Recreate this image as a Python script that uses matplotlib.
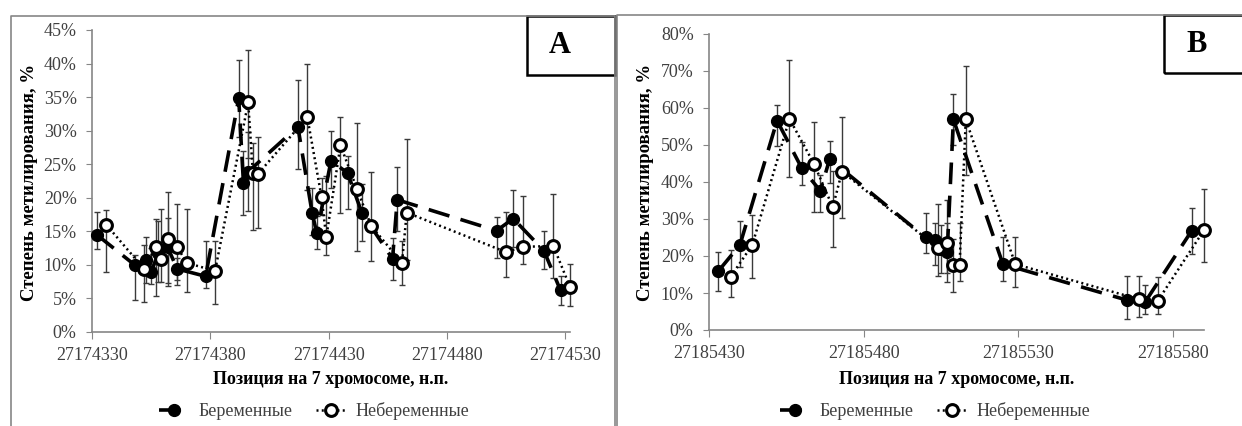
import matplotlib
matplotlib.use('Agg')
import matplotlib.pyplot as plt
from matplotlib.lines import Line2D
from matplotlib.patches import Rectangle
from matplotlib.ticker import PercentFormatter, FixedLocator, MultipleLocator

plt.rcParams['font.family'] = ['Liberation Serif', 'DejaVu Serif']

# ---- данные: участок A ----
a_preg_pos = [27174332, 27174348, 27174353, 27174355, 27174358, 27174362, 27174366, 27174378,
              27174392, 27174394, 27174396, 27174417, 27174423, 27174425, 27174431, 27174438,
              27174444, 27174457, 27174459, 27174501, 27174508, 27174521, 27174528]
a_preg_val = [14.5, 10.0, 10.8, 8.9, 11.8, 12.6, 9.4, 8.3,
              34.8, 22.2, 23.9, 30.6, 17.8, 14.7, 25.5, 23.7,
              17.8, 10.9, 19.7, 15.1, 16.9, 12.1, 6.2]
a_preg_low = [12.4, 4.7, 7.3, 7.1, 7.5, 7.3, 7.8, 6.5,
              29.1, 17.4, 18.0, 24.3, 14.5, 12.3, 21.4, 18.3,
              13.5, 7.8, 15.0, 11.0, 12.7, 9.4, 4.0]
a_preg_high = [17.9, 11.4, 14.2, 12.5, 16.5, 17.0, 11.0, 13.6,
               40.6, 27.0, 29.8, 37.5, 21.5, 17.3, 30.0, 26.2,
               22.0, 14.0, 24.6, 17.2, 21.2, 15.1, 8.3]

a_non_pos = [27174336, 27174352, 27174357, 27174359, 27174362, 27174366, 27174370, 27174382,
             27174396, 27174398, 27174400, 27174421, 27174427, 27174429, 27174435, 27174442,
             27174448, 27174461, 27174463, 27174505, 27174512, 27174525, 27174532]
a_non_val = [16.0, 9.4, 12.7, 10.9, 13.8, 12.7, 10.3, 9.1,
             34.2, 23.7, 23.5, 32.0, 20.1, 14.1, 27.8, 21.3,
             15.8, 10.3, 17.8, 11.9, 12.7, 12.8, 6.7]
a_non_low = [8.9, 4.5, 5.3, 7.5, 6.8, 7.0, 5.9, 4.2,
             26.0, 15.2, 15.5, 21.2, 17.5, 11.5, 17.7, 12.1,
             10.6, 7.0, 10.8, 8.2, 10.2, 8.0, 3.9]
a_non_high = [18.2, 13.0, 16.9, 18.3, 20.9, 19.0, 18.4, 13.6,
              42.0, 28.2, 29.1, 40.0, 23.0, 23.3, 32.0, 31.2,
              23.8, 13.5, 28.8, 17.9, 20.3, 20.6, 10.2]

a_xticks = [27174330, 27174380, 27174430, 27174480, 27174530]

# ---- данные: участок B ----
b_preg_pos = [27185433, 27185440, 27185452, 27185460, 27185466, 27185469, 27185500, 27185503,
              27185505, 27185507, 27185509, 27185525, 27185565, 27185571, 27185586]
b_preg_val = [15.9, 23.0, 56.6, 43.7, 37.6, 46.2, 25.0, 24.3,
              22.0, 21.2, 56.9, 17.8, 8.1, 7.6, 26.8]
b_preg_low = [10.6, 17.0, 49.8, 39.2, 32.0, 39.6, 20.7, 17.6,
              15.5, 15.3, 50.0, 13.3, 3.0, 4.2, 20.5]
b_preg_high = [21.2, 29.5, 60.7, 50.9, 42.0, 51.2, 31.5, 28.8,
               28.5, 28.8, 63.8, 25.2, 14.6, 12.1, 33.1]

b_non_pos = [27185437, 27185444, 27185456, 27185464, 27185470, 27185473, 27185504, 27185507,
             27185509, 27185511, 27185513, 27185529, 27185569, 27185575, 27185590]
b_non_val = [14.4, 23.0, 57.1, 44.8, 33.2, 42.8, 22.2, 23.6,
             17.6, 17.6, 56.9, 17.8, 8.3, 7.8, 27.0]
b_non_low = [9.0, 14.1, 41.4, 32.0, 22.3, 30.2, 14.6, 13.1,
             10.4, 13.2, 42.0, 11.7, 3.6, 4.2, 18.3]
b_non_high = [21.6, 31.0, 73.0, 56.1, 43.0, 57.6, 34.0, 35.1,
              24.5, 28.8, 71.4, 25.2, 14.6, 14.2, 38.1]

b_xticks = [27185430, 27185480, 27185530, 27185580]

labels = ['Беременные', 'Небеременные']

W, H = 1242, 426
fig = plt.figure(figsize=(W / 100, H / 100), dpi=100)

GRAY = '#868686'
TXT = '#404040'


def rect_px(x0, y0, x1, y1):
    # пиксели (начало сверху слева) -> доли фигуры
    return [x0 / W, 1 - y1 / H, (x1 - x0) / W, (y1 - y0) / H]


def series(ax, pos, val, low, high, filled):
    yerr = [[v - l for v, l in zip(val, low)], [h - v for v, h in zip(val, high)]]
    eb = ax.errorbar(pos, val, yerr=yerr, fmt='none', ecolor='#3a3a3a', elinewidth=1,
                     capsize=2.2, capthick=1, zorder=2)
    for art in eb.lines[1] + eb.lines[2]:
        art.set_clip_on(False)
    if filled:
        ax.plot(pos, val, color='black', lw=2.6, dashes=(6, 3.2), zorder=3, clip_on=False)
        ax.plot(pos, val, ls='none', marker='o', ms=8.5, mfc='black', mec='black',
                zorder=4, clip_on=False)
    else:
        ax.plot(pos, val, color='black', lw=1.8, ls=(0, (0.8, 1.3)), zorder=3, clip_on=False)
        ax.plot(pos, val, ls='none', marker='o', ms=8.5, mfc='white', mec='black',
                mew=2.2, zorder=5, clip_on=False)


def panel(rect, xlim, xticks, ylim, ystep, data, frame, box, letter, ylab_x, leg_x):
    ax = fig.add_axes(rect)
    (pp, pv, pl, ph), (npos, nv, nl, nh) = data
    series(ax, pp, pv, pl, ph, True)
    series(ax, npos, nv, nl, nh, False)

    ax.set_xlim(*xlim)
    ax.set_ylim(*ylim)
    ax.xaxis.set_major_locator(FixedLocator(xticks))
    ax.xaxis.set_major_formatter(plt.FuncFormatter(lambda v, p: f'{int(round(v))}'))
    ax.yaxis.set_major_locator(MultipleLocator(ystep))
    ax.yaxis.set_major_formatter(PercentFormatter(decimals=0))
    for s in ['top', 'right']:
        ax.spines[s].set_visible(False)
    for s in ['left', 'bottom']:
        ax.spines[s].set_color(GRAY)
        ax.spines[s].set_linewidth(1.2)
    ax.tick_params(axis='y', direction='out', length=4, color=GRAY, labelsize=13,
                   labelcolor=TXT, pad=7)
    ax.tick_params(axis='x', direction='out', length=5, color=GRAY, labelsize=13,
                   labelcolor=TXT, pad=6)
    ax.patch.set_alpha(0)

    # рамка области диаграммы
    x0, x1, y0 = frame
    fig.add_artist(Line2D([x0 / W, x0 / W, x1 / W, x1 / W], [0, 1 - y0 / H, 1 - y0 / H, 0],
                          transform=fig.transFigure, color=GRAY, lw=1.2))
    # буква в рамке
    bx0, by0, bx1, by1 = box
    fig.add_artist(Rectangle((bx0 / W, 1 - by1 / H), (bx1 - bx0) / W, (by1 - by0) / H,
                             transform=fig.transFigure, fill=False, ec='black', lw=1.8))
    fig.text((bx0 + 33) / W, 1 - (by0 + by1) / 2 / H, letter, fontsize=22,
             fontweight='bold', ha='center', va='center')

    fig.text(ylab_x / W, 1 - 182 / H, 'Степень метилирования, %', rotation=90,
             fontsize=13.5, fontweight='bold', ha='center', va='center')
    xc = (rect[0] + rect[2] / 2)
    fig.text(xc, 1 - 380 / H, 'Позиция на 7 хромосоме, н.п.', fontsize=13,
             fontweight='bold', ha='center', va='center')

    handles = [Line2D([], [], color='black', lw=2.6, dashes=(6, 3.2), marker='o', ms=8.5,
                      mfc='black', mec='black'),
               Line2D([], [], color='black', lw=1.8, ls=(0, (0.8, 1.3)), marker='o', ms=8.5,
                      mfc='white', mec='black', mew=2.2)]
    fig.legend(handles, labels, ncol=2, loc='center', bbox_to_anchor=(leg_x / W, 1 - 411 / H),
               frameon=False, fontsize=13, handlelength=1.7, handletextpad=0.5,
               columnspacing=1.3, labelcolor=TXT)
    return ax


panel(rect_px(92, 30, 570, 332), (27174330, 27174532), a_xticks, (0, 45), 5,
      [(a_preg_pos, a_preg_val, a_preg_low, a_preg_high),
       (a_non_pos, a_non_val, a_non_low, a_non_high)],
      (11, 615, 16), (527, 16, 615, 75), 'A', 30, 314)

panel(rect_px(709, 34, 1204, 330), (27185430, 27185590), b_xticks, (0, 80), 10,
      [(b_preg_pos, b_preg_val, b_preg_low, b_preg_high),
       (b_non_pos, b_non_val, b_non_low, b_non_high)],
      (617, 1260, 15), (1164, 15, 1250, 73), 'B', 645, 935)

fig.savefig('out.png', dpi=100)
